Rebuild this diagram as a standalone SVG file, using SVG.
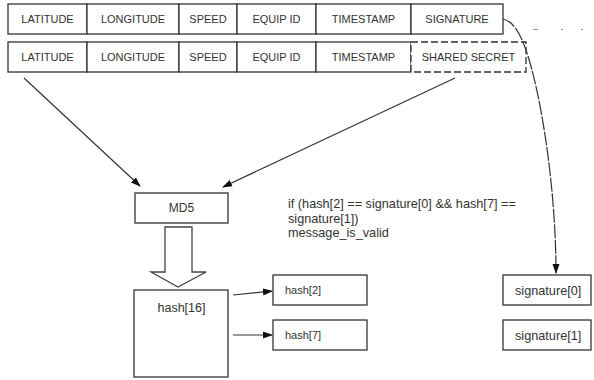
<svg xmlns="http://www.w3.org/2000/svg" width="594" height="380" viewBox="0 0 594 380">
<style>
.b{fill:#fff;stroke:#333;stroke-width:1.3}
.d{fill:#fff;stroke:#333;stroke-width:1.3;stroke-dasharray:7 3}
.t{font-family:"Liberation Sans",Arial,sans-serif;font-size:11px;fill:#333;text-anchor:middle}
.s{font-family:"Liberation Sans",Arial,sans-serif;font-size:12.7px;fill:#333}
.h{font-family:"Liberation Sans",Arial,sans-serif;font-size:11px;fill:#333}
.g{font-family:"Liberation Sans",Arial,sans-serif;font-size:12.5px;fill:#333}
.c{fill:none;stroke:#333;stroke-width:1.2}
</style>
<defs>
<marker id="ah" markerWidth="10" markerHeight="8" refX="9" refY="4" orient="auto" markerUnits="userSpaceOnUse">
<path d="M0,0.5 L10,4 L0,7.5 Z" fill="#111"/>
</marker>
</defs>
<g id="row1">
<rect class="b" x="8" y="4" width="79" height="30"/>
<rect class="b" x="87" y="4" width="92" height="30"/>
<rect class="b" x="179" y="4" width="58" height="30"/>
<rect class="b" x="237" y="4" width="79" height="30"/>
<rect class="b" x="316" y="4" width="95" height="30"/>
<rect class="b" x="411" y="4" width="92" height="30"/>
<text class="t" x="47.5" y="23">LATITUDE</text>
<text class="t" x="133" y="23">LONGITUDE</text>
<text class="t" x="208" y="23">SPEED</text>
<text class="t" x="276.5" y="23">EQUIP ID</text>
<text class="t" x="363.5" y="23">TIMESTAMP</text>
<text class="t" x="457" y="23">SIGNATURE</text>
</g>
<g id="row2">
<rect class="b" x="8" y="42" width="79" height="30"/>
<rect class="b" x="87" y="42" width="92" height="30"/>
<rect class="b" x="179" y="42" width="58" height="30"/>
<rect class="b" x="237" y="42" width="79" height="30"/>
<rect class="b" x="316" y="42" width="95" height="30"/>
<rect class="d" x="411" y="42" width="115" height="30"/>
<text class="t" x="47.5" y="61">LATITUDE</text>
<text class="t" x="133" y="61">LONGITUDE</text>
<text class="t" x="208" y="61">SPEED</text>
<text class="t" x="276.5" y="61">EQUIP ID</text>
<text class="t" x="363.5" y="61">TIMESTAMP</text>
<text class="t" x="468.5" y="61">SHARED SECRET</text>
</g>
<g id="md5">
<rect class="b" x="135" y="193" width="93" height="30"/>
<text class="t" x="181.5" y="212" style="font-size:12px">MD5</text>
</g>
<g id="blockarrow">
<path d="M165,227 L192,227 L192,272 L206,272 L178,287 L151,272 L165,272 Z" fill="#fff" stroke="#444" stroke-width="1.3"/>
</g>
<g id="hash16">
<rect class="b" x="134" y="290" width="94" height="87"/>
<text class="g" x="181.5" y="312" text-anchor="middle">hash[16]</text>
</g>
<g id="hash2">
<rect class="b" x="273" y="275" width="94" height="30"/>
<text class="h" x="285" y="294">hash[2]</text>
</g>
<g id="hash7">
<rect class="b" x="273" y="320" width="94" height="30"/>
<text class="h" x="285" y="339">hash[7]</text>
</g>
<g id="sig0">
<rect class="b" x="503" y="275" width="88" height="30"/>
<text class="s" x="515" y="294.5">signature[0]</text>
</g>
<g id="sig1">
<rect class="b" x="503" y="320" width="88" height="30"/>
<text class="s" x="515" y="339.5">signature[1]</text>
</g>
<g id="condition">
<text class="s" x="288" y="208">if (hash[2] == signature[0] &amp;&amp; hash[7] ==</text>
<text class="s" x="288" y="222.5">signature[1])</text>
<text class="s" x="288" y="237">message_is_valid</text>
</g>
<g id="connectors">
<line class="c" x1="24" y1="78" x2="140" y2="186" marker-end="url(#ah)"/>
<line class="c" x1="455" y1="78" x2="223" y2="187" marker-end="url(#ah)"/>
<line class="c" x1="233" y1="295" x2="272" y2="291" marker-end="url(#ah)"/>
<line class="c" x1="233" y1="335" x2="272" y2="335" marker-end="url(#ah)"/>
<path class="c" d="M503,19 C516,22 524,40 532,70 C545,120 556,200 556,273" stroke-dasharray="14 1.5" marker-end="url(#ah)"/>
<g stroke="#999" stroke-width="1">
<line x1="533" y1="29.5" x2="538" y2="29.5"/>
<line x1="561" y1="29.5" x2="563" y2="29.5"/>
<line x1="581" y1="29.5" x2="583" y2="29.5"/>
</g>
</g>
</svg>
